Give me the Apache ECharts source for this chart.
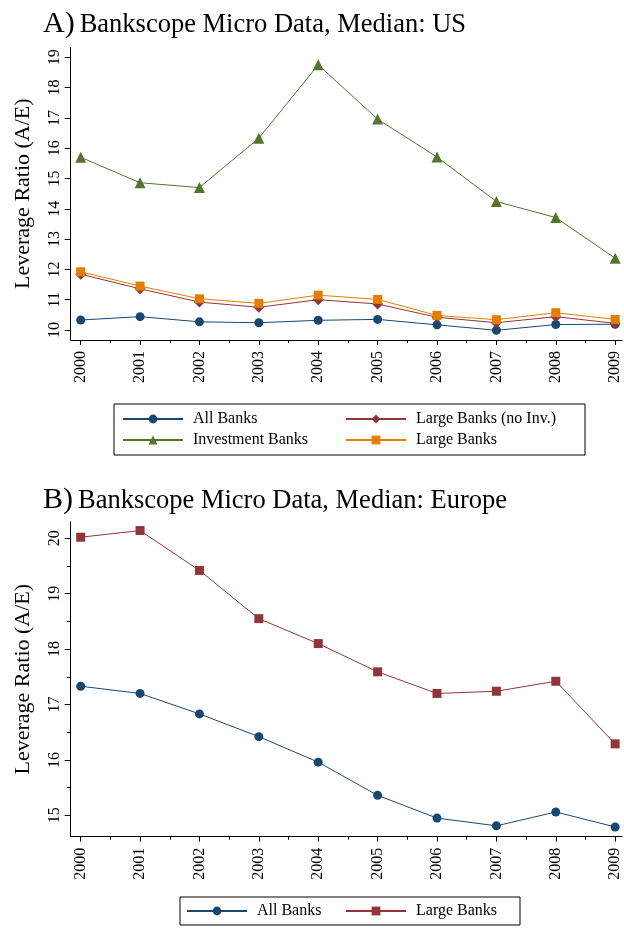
<!DOCTYPE html>
<html><head><meta charset="utf-8">
<script src="https://cdn.jsdelivr.net/npm/echarts@6/dist/echarts.min.js"></script>
<style>html,body{margin:0;padding:0;background:#fff;}#a{width:624px;height:470px;}#b{width:624px;height:460px;}</style>
</head><body><div id="a"></div><div id="b"></div>
<script>
// ---- data ----
const years = [2000, 2001, 2002, 2003, 2004, 2005, 2006, 2007, 2008, 2009];
const xMinorTicks = [2000.5, 2001.5, 2002.5, 2003.5, 2004.5, 2005.5, 2006.5, 2007.5, 2008.5];
const usAllBanks = [10.33, 10.44, 10.27, 10.24, 10.32, 10.35, 10.17, 9.99, 10.18, 10.19];
const usLargeNoInv = [11.84, 11.36, 10.92, 10.75, 11.00, 10.86, 10.42, 10.24, 10.44, 10.22];
const usInvestment = [15.70, 14.86, 14.70, 16.33, 18.75, 16.96, 15.71, 14.24, 13.71, 12.37];
const usLarge = [11.92, 11.45, 11.03, 10.88, 11.15, 11.01, 10.48, 10.34, 10.57, 10.35];
const euAllBanks = [17.33, 17.20, 16.83, 16.42, 15.96, 15.36, 14.95, 14.81, 15.06, 14.79];
const euLarge = [20.02, 20.14, 19.42, 18.55, 18.10, 17.59, 17.20, 17.24, 17.42, 16.29];
const usYTicks = [10, 11, 12, 13, 14, 15, 16, 17, 18, 19];
const euYTicks = [15, 16, 17, 18, 19, 20];
const euYMinorTicks = [15.5, 16.5, 17.5, 18.5, 19.5];

const FONT = "'Liberation Serif', 'DejaVu Serif', serif";
const C = { navy: '#1a476f', maroon: '#90353b', green: '#55752f', orange: '#e37e00' };
const pairs = (ys) => years.map((y, i) => [y, ys[i]]);
const plain = (v) => String(v);

function xAxes(gridIndex) {
  return [
    { type: 'value', gridIndex, position: 'bottom', min: 1999.832, max: 2009.115, splitLine: { show: false },
      axisLine: { show: true, onZero: false, lineStyle: { color: '#000', width: 1 } },
      axisTick: { show: true, length: 5, customValues: years, lineStyle: { color: '#000' } },
      axisLabel: { customValues: years, formatter: plain, rotate: 90, margin: 11, fontSize: 16, fontFamily: FONT, color: '#000' } },
    { type: 'value', gridIndex, position: 'bottom', offset: 0, min: 1999.832, max: 2009.115, splitLine: { show: false },
      axisLine: { show: false, onZero: false },
      axisTick: { show: true, length: 3, customValues: xMinorTicks, lineStyle: { color: '#000' } },
      axisLabel: { show: false } }
  ];
}
function line(name, data, color, symbol, size) {
  return { type: 'line', name, data: pairs(data), xAxisIndex: 0, yAxisIndex: 0,
    symbol, symbolSize: size, showAllSymbol: true, animation: false,
    lineStyle: { color, width: 1 }, itemStyle: { color, borderColor: color, borderWidth: 0 } };
}
const nameStyle = { name: 'Leverage Ratio (A/E)', nameLocation: 'middle', nameRotate: 90, nameGap: 36,
  nameTextStyle: { fontSize: 22, fontFamily: FONT, color: '#000' } };
const titleRich = {
  a: { fontSize: 30, fontFamily: FONT, fontWeight: 'normal', color: '#000', verticalAlign: 'bottom', lineHeight: 32 },
  b: { fontSize: 26.5, fontFamily: FONT, fontWeight: 'normal', color: '#000', verticalAlign: 'bottom', lineHeight: 32 }
};

// ---- chart A ----
const chartA = echarts.init(document.getElementById('a'), null, { renderer: 'canvas' });
chartA.setOption({
  animation: false,
  title: { left: 38, top: 2, text: '{a|A)} {b|Bankscope Micro Data, Median: US}',
    textStyle: { fontWeight: 'normal', rich: titleRich } },
  grid: { left: 70.7, top: 47.3, width: 551.3, height: 292.7, containLabel: false },
  xAxis: xAxes(0),
  yAxis: [Object.assign({ type: 'value', min: 9.67, max: 19.33, splitLine: { show: false },
    axisLine: { show: true, lineStyle: { color: '#000', width: 1 } },
    axisTick: { show: true, length: 6, customValues: usYTicks, lineStyle: { color: '#000' } },
    axisLabel: { customValues: usYTicks, formatter: plain, rotate: 90, margin: 8, fontSize: 16, fontFamily: FONT, color: '#000' } }, nameStyle)],
  legend: { left: 114, top: 404, orient: 'horizontal', width: 450, itemGap: 5, itemWidth: 60, itemHeight: 11,
    padding: [7, 22, 7, 8], borderColor: '#000', borderWidth: 1,
    textStyle: { fontSize: 16, fontFamily: FONT, color: '#000', width: 147, lineHeight: 16, padding: [0, 0, 0, 5] },
    data: ['All Banks', 'Large Banks (no Inv.)', 'Investment Banks', 'Large Banks'] },
  series: [
    line('All Banks', usAllBanks, C.navy, 'circle', 9),
    line('Large Banks (no Inv.)', usLargeNoInv, C.maroon, 'diamond', 11),
    line('Investment Banks', usInvestment, C.green, 'triangle', 11),
    line('Large Banks', usLarge, C.orange, 'rect', 9)
  ]
});

// ---- chart B ----
const chartB = echarts.init(document.getElementById('b'), null, { renderer: 'canvas' });
chartB.setOption({
  animation: false,
  title: { left: 38, top: 8, text: '{a|B)} {b|Bankscope Micro Data, Median: Europe}',
    textStyle: { fontWeight: 'normal', rich: titleRich } },
  grid: { left: 70.7, top: 51.7, width: 551.3, height: 315, containLabel: false },
  xAxis: xAxes(0),
  yAxis: [
    Object.assign({ type: 'value', min: 14.614, max: 20.30, splitLine: { show: false },
      axisLine: { show: true, lineStyle: { color: '#000', width: 1 } },
      axisTick: { show: true, length: 6, customValues: euYTicks, lineStyle: { color: '#000' } },
      axisLabel: { customValues: euYTicks, formatter: plain, rotate: 90, margin: 8, fontSize: 16, fontFamily: FONT, color: '#000' } }, nameStyle),
    { type: 'value', min: 14.614, max: 20.30, position: 'left', offset: 0, splitLine: { show: false },
      axisLine: { show: false },
      axisTick: { show: true, length: 4, customValues: euYMinorTicks, lineStyle: { color: '#000' } },
      axisLabel: { show: false } }
  ],
  legend: { left: 180, top: 427, orient: 'horizontal', itemGap: 5, itemWidth: 60, itemHeight: 11,
    padding: [6, 21, 6, 6], borderColor: '#000', borderWidth: 1,
    textStyle: { fontSize: 16, fontFamily: FONT, color: '#000', width: 83, lineHeight: 16, padding: [0, 0, 0, 5] },
    data: ['All Banks', 'Large Banks'] },
  series: [
    line('All Banks', euAllBanks, C.navy, 'circle', 9),
    line('Large Banks', euLarge, C.maroon, 'rect', 9)
  ]
});
</script></body></html>
